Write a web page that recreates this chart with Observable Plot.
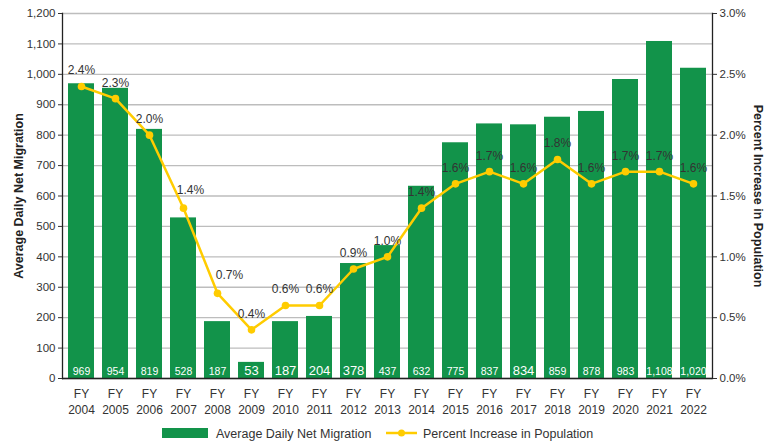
<!DOCTYPE html>
<html><head><meta charset="utf-8">
<script src="https://cdn.jsdelivr.net/npm/d3@7"></script>
<script src="https://cdn.jsdelivr.net/npm/@observablehq/plot@0.6"></script>
<style>
body{margin:0;background:#fff;font-family:"Liberation Sans",Arial,sans-serif}
#wrap{position:relative;width:775px;height:445px;overflow:hidden}
#legend{position:absolute;top:420px;left:0;width:775px;height:25px}
</style></head>
<body>
<div id="wrap"><div id="chart"></div>
<svg id="legend" width="775" height="25">
  <rect x="162" y="8" width="46" height="10" fill="#12934a"></rect>
  <text x="216" y="17.5" font-size="12.5" fill="#333" font-family="Liberation Sans, Arial, sans-serif">Average Daily Net Migration</text>
  <line x1="386" x2="417" y1="13" y2="13" stroke="#ffcc00" stroke-width="2.5"></line>
  <circle cx="401.5" cy="13" r="3.5" fill="#ffcc00"></circle>
  <text x="423" y="17.5" font-size="12.5" fill="#333" font-family="Liberation Sans, Arial, sans-serif">Percent Increase in Population</text>
</svg>
</div>
<script>
const years = ["2004","2005","2006","2007","2008","2009","2010","2011","2012","2013","2014","2015","2016","2017","2018","2019","2020","2021","2022"];
const migration = [969,954,819,528,187,53,187,204,378,437,632,775,837,834,859,878,983,1108,1020];
const pctIncrease = [2.4,2.3,2.0,1.4,0.7,0.4,0.6,0.6,0.9,1.0,1.4,1.6,1.7,1.6,1.8,1.6,1.7,1.7,1.6];
const leftTicks = [0,100,200,300,400,500,600,700,800,900,1000,1100,1200];
const rightTicks = [0.0,0.5,1.0,1.5,2.0,2.5,3.0];

const K = 1200 / 3.0; // percent -> left-axis units
const data = years.map((y,i)=>({year:y, mig:migration[i], pct:pctIncrease[i]}));
const shifted = {"2007":7, "2008":12};
const bigLabel = new Set(["2009","2010","2011","2012","2017"]);
const fmt = d3.format(",");

const chart = Plot.plot({
  width: 775, height: 420,
  marginLeft: 62, marginRight: 63, marginTop: 13, marginBottom: 42,
  style: {fontFamily: "Liberation Sans, Arial, sans-serif", fontSize: "11px", color: "#333", background: "#fff"},
  x: {domain: years, paddingInner: 0.23, paddingOuter: 0.12},
  y: {domain: [0, 1200]},
  marks: [
    Plot.gridY({ticks: leftTicks, stroke: "#bdbdbd", strokeOpacity: 1, strokeWidth: 1.3}),
    Plot.barY(data, {x: "year", y: "mig", fill: "#12934a"}),
    Plot.text(data.filter(d => !bigLabel.has(d.year)), {x: "year", y: 0, text: d => fmt(d.mig), fill: "white", dy: -7, fontSize: 10.5}),
    Plot.text(data.filter(d => bigLabel.has(d.year)), {x: "year", y: 0, text: d => fmt(d.mig), fill: "white", dy: -8, fontSize: 13}),
    Plot.ruleY([0], {stroke: "#222", strokeWidth: 1.3}),
    Plot.frame({anchor: "left", stroke: "#222", strokeWidth: 1.3}),
    Plot.frame({anchor: "right", stroke: "#222", strokeWidth: 1.3}),
    Plot.line(data, {x: "year", y: d => d.pct * K, stroke: "#ffcc00", strokeWidth: 2.5}),
    Plot.dot(data, {x: "year", y: d => d.pct * K, r: 3.8, fill: "#ffcc00"}),
    Plot.text(data.filter(d => !(d.year in shifted)), {x: "year", y: d => d.pct * K, text: d => d.pct.toFixed(1) + "%", dy: -16, fill: "#333", fontSize: 12}),
    Plot.text(data.filter(d => d.year === "2007"), {x: "year", y: d => d.pct * K, text: d => d.pct.toFixed(1) + "%", dy: -18, dx: 7, fill: "#333", fontSize: 12}),
    Plot.text(data.filter(d => d.year === "2008"), {x: "year", y: d => d.pct * K, text: d => d.pct.toFixed(1) + "%", dy: -18, dx: 12, fill: "#333", fontSize: 12}),
    Plot.axisY({anchor: "left", ticks: leftTicks, tickFormat: fmt, tickSize: 4, tickPadding: 3, label: null, fontSize: 11.5}),
    Plot.axisY({anchor: "right", ticks: rightTicks.map(p => p * K), tickFormat: v => (v / K).toFixed(1) + "%", tickSize: 4, tickPadding: 3, label: null, fontSize: 11.5}),
    Plot.axisX({tickFormat: d => "FY\n" + d, tickSize: 0, tickPadding: 8, label: null, lineHeight: 1.35, fontSize: 12}),
    Plot.text(["Average Daily Net Migration"], {frameAnchor: "left", textAnchor: "middle", dx: -44, rotate: -90, fontWeight: "bold", fontSize: 12.5, fill: "#222"}),
    Plot.text(["Percent Increase in Population"], {frameAnchor: "right", textAnchor: "middle", dx: 45, rotate: 90, fontWeight: "bold", fontSize: 12.5, fill: "#222"})
  ]
});
document.getElementById("chart").append(chart);
</script>
</body></html>
